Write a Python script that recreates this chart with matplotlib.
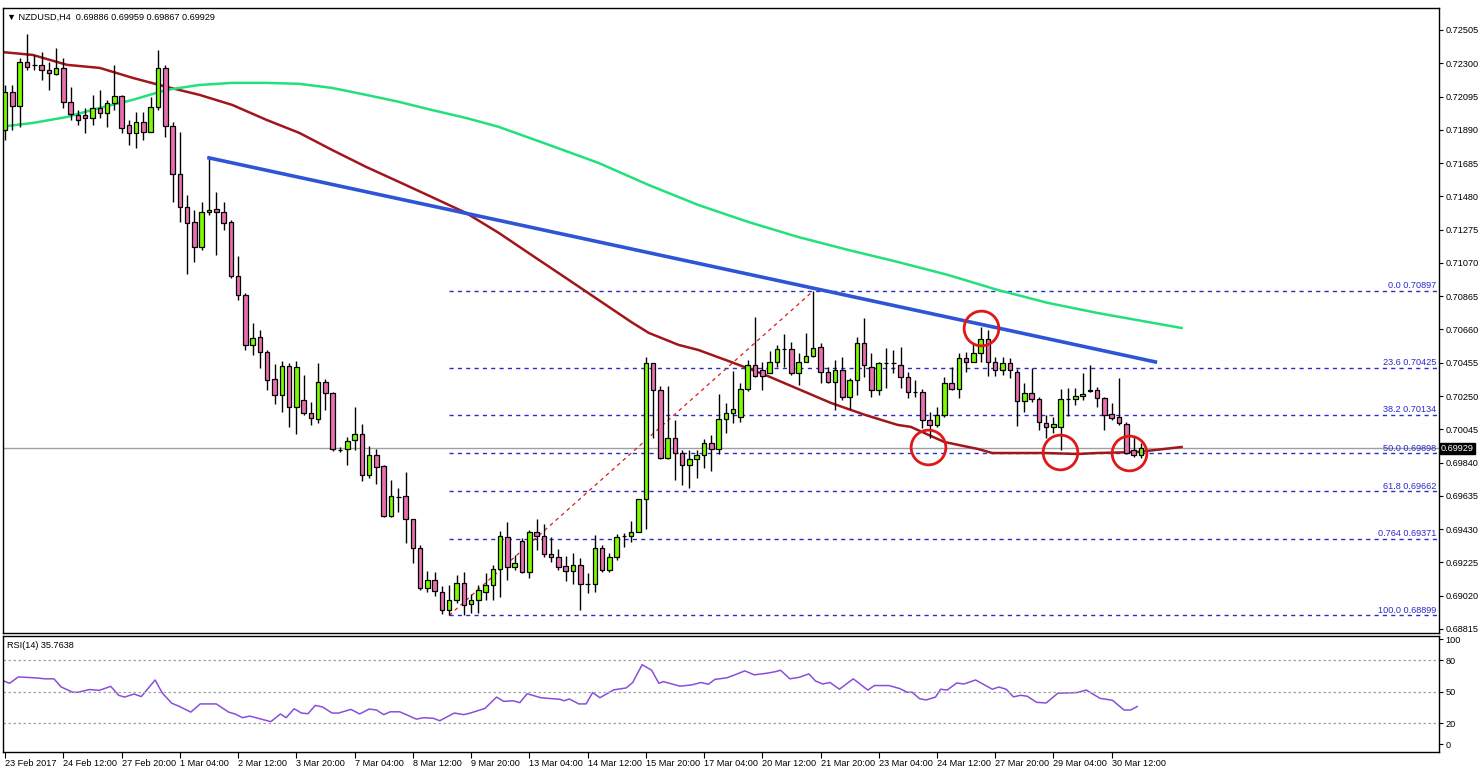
import numpy as np
import matplotlib.pyplot as plt

# NZDUSD H4 candles
opens = [0.71889, 0.72123, 0.72037, 0.72308, 0.72290, 0.72290, 0.72259, 0.72234, 0.72271, 0.72062,
         0.71982, 0.71982, 0.71963, 0.72025, 0.71994, 0.72056, 0.72099, 0.71920, 0.71871, 0.71939,
         0.71877, 0.72031, 0.72271, 0.71914, 0.71618, 0.71415, 0.71322, 0.71168, 0.71384, 0.71403,
         0.71384, 0.71322, 0.70990, 0.70873, 0.70565, 0.70614, 0.70522, 0.70355, 0.70257, 0.70435,
         0.70183, 0.70226, 0.70146, 0.70109, 0.70337, 0.70269, 0.69915, 0.69921, 0.69977, 0.70014,
         0.69764, 0.69885, 0.69817, 0.69511, 0.69628, 0.69635, 0.69493, 0.69314, 0.69068, 0.69117,
         0.69043, 0.68932, 0.68994, 0.69099, 0.68969, 0.68994, 0.69043, 0.69086, 0.69185, 0.69382,
         0.69197, 0.69357, 0.69167, 0.69413, 0.69388, 0.69277, 0.69259, 0.69203, 0.69173, 0.69210,
         0.69093, 0.69093, 0.69314, 0.69179, 0.69259, 0.69388, 0.69388, 0.69413, 0.69616, 0.70454,
         0.70288, 0.69869, 0.69992, 0.69900, 0.69826, 0.69863, 0.69887, 0.69961, 0.69924, 0.70109,
         0.70146, 0.70121, 0.70294, 0.70442, 0.70411, 0.70392, 0.70460, 0.70540, 0.70540, 0.70392,
         0.70460, 0.70497, 0.70552, 0.70399, 0.70337, 0.70411, 0.70245, 0.70349, 0.70577, 0.70429,
         0.70288, 0.70454, 0.70454, 0.70442, 0.70368, 0.70275, 0.70275, 0.70103, 0.70072, 0.70134,
         0.70331, 0.70294, 0.70485, 0.70460, 0.70516, 0.70602, 0.70460, 0.70411, 0.70454, 0.70398,
         0.70220, 0.70269, 0.70232, 0.70084, 0.70060, 0.70060, 0.70232, 0.70232, 0.70251, 0.70282,
         0.70288, 0.70239, 0.70140, 0.70121, 0.70078, 0.69918, 0.69886]
highs = [0.72166, 0.72166, 0.72333, 0.72481, 0.72351, 0.72370, 0.72308, 0.72394, 0.72333, 0.72154,
         0.72012, 0.72025, 0.72105, 0.72136, 0.72074, 0.72290, 0.72105, 0.71951, 0.72000, 0.72000,
         0.72092, 0.72382, 0.72290, 0.71939, 0.71877, 0.71489, 0.71396, 0.71446, 0.71717, 0.71507,
         0.71446, 0.71335, 0.71113, 0.70885, 0.70700, 0.70657, 0.70534, 0.70448, 0.70466, 0.70454,
         0.70466, 0.70380, 0.70214, 0.70454, 0.70355, 0.70275, 0.69934, 0.69995, 0.70183, 0.70075,
         0.69940, 0.69924, 0.69823, 0.69733, 0.69684, 0.69783, 0.69493, 0.69333, 0.69173, 0.69167,
         0.69080, 0.69086, 0.69148, 0.69167, 0.69031, 0.69086, 0.69160, 0.69210, 0.69419, 0.69474,
         0.69271, 0.69376, 0.69425, 0.69493, 0.69462, 0.69382, 0.69308, 0.69265, 0.69284, 0.69253,
         0.69160, 0.69394, 0.69333, 0.69284, 0.69401, 0.69407, 0.69481, 0.69616, 0.70491, 0.70454,
         0.70312, 0.70312, 0.70103, 0.69918, 0.69918, 0.69918, 0.69986, 0.70010, 0.70263, 0.70207,
         0.70405, 0.70331, 0.70472, 0.70737, 0.70460, 0.70528, 0.70565, 0.70633, 0.70583, 0.70516,
         0.70639, 0.70897, 0.70577, 0.70429, 0.70472, 0.70491, 0.70362, 0.70614, 0.70731, 0.70516,
         0.70460, 0.70546, 0.70534, 0.70552, 0.70398, 0.70349, 0.70294, 0.70152, 0.70183, 0.70368,
         0.70429, 0.70516, 0.70522, 0.70577, 0.70676, 0.70657, 0.70491, 0.70491, 0.70485, 0.70417,
         0.70331, 0.70423, 0.70245, 0.70134, 0.70121, 0.70292, 0.70300, 0.70300, 0.70392, 0.70442,
         0.70306, 0.70245, 0.70207, 0.70362, 0.70090, 0.69995, 0.69959]
lows = [0.71828, 0.71889, 0.71908, 0.72259, 0.72259, 0.72197, 0.72136, 0.72228, 0.72025, 0.71951,
        0.71920, 0.71871, 0.71920, 0.71963, 0.71908, 0.72012, 0.71871, 0.71797, 0.71778, 0.71828,
        0.71877, 0.72012, 0.71846, 0.71446, 0.71322, 0.71002, 0.71076, 0.71150, 0.71366, 0.71119,
        0.71273, 0.70978, 0.70842, 0.70534, 0.70503, 0.70423, 0.70288, 0.70201, 0.70152, 0.70060,
        0.70017, 0.70134, 0.70072, 0.70084, 0.70164, 0.69912, 0.69906, 0.69826, 0.69915, 0.69727,
        0.69746, 0.69709, 0.69505, 0.69505, 0.69536, 0.69345, 0.69222, 0.69056, 0.69043, 0.69019,
        0.68908, 0.68899, 0.68976, 0.68902, 0.68914, 0.68914, 0.68994, 0.68994, 0.69012, 0.69117,
        0.69179, 0.69160, 0.69130, 0.69302, 0.69259, 0.69228, 0.69179, 0.69111, 0.69093, 0.68932,
        0.69037, 0.69043, 0.69167, 0.69167, 0.69240, 0.69320, 0.69351, 0.69413, 0.69431, 0.69992,
        0.69863, 0.69863, 0.69733, 0.69702, 0.69684, 0.69746, 0.69807, 0.69789, 0.69893, 0.70023,
        0.70084, 0.70090, 0.70282, 0.70368, 0.70288, 0.70392, 0.70429, 0.70429, 0.70380, 0.70318,
        0.70460, 0.70491, 0.70331, 0.70331, 0.70164, 0.70226, 0.70168, 0.70257, 0.70368, 0.70245,
        0.70257, 0.70300, 0.70392, 0.70300, 0.70238, 0.70245, 0.70054, 0.69994, 0.70060, 0.70121,
        0.70288, 0.70238, 0.70399, 0.70460, 0.70460, 0.70374, 0.70374, 0.70380, 0.70362, 0.70066,
        0.70152, 0.70214, 0.70041, 0.69992, 0.70023, 0.69918, 0.70127, 0.70195, 0.70226, 0.70275,
        0.70183, 0.70041, 0.70103, 0.70072, 0.69893, 0.69875, 0.69867]
closes = [0.72123, 0.72037, 0.72308, 0.72277, 0.72290, 0.72259, 0.72240, 0.72271, 0.72062, 0.71988,
          0.71951, 0.71963, 0.72025, 0.71994, 0.72056, 0.72099, 0.71902, 0.71871, 0.71939, 0.71877,
          0.72031, 0.72271, 0.71914, 0.71618, 0.71415, 0.71316, 0.71168, 0.71384, 0.71396, 0.71384,
          0.71316, 0.70990, 0.70873, 0.70565, 0.70608, 0.70522, 0.70349, 0.70257, 0.70435, 0.70183,
          0.70429, 0.70146, 0.70115, 0.70337, 0.70269, 0.69924, 0.69915, 0.69971, 0.70014, 0.69764,
          0.69885, 0.69810, 0.69511, 0.69635, 0.69628, 0.69493, 0.69314, 0.69068, 0.69117, 0.69050,
          0.68932, 0.68994, 0.69099, 0.68963, 0.68994, 0.69056, 0.69086, 0.69185, 0.69388, 0.69197,
          0.69222, 0.69167, 0.69413, 0.69388, 0.69277, 0.69259, 0.69197, 0.69173, 0.69210, 0.69093,
          0.69093, 0.69314, 0.69179, 0.69259, 0.69382, 0.69388, 0.69413, 0.69616, 0.70454, 0.70288,
          0.69869, 0.69992, 0.69900, 0.69826, 0.69863, 0.69887, 0.69961, 0.69924, 0.70109, 0.70146,
          0.70171, 0.70294, 0.70442, 0.70374, 0.70374, 0.70460, 0.70540, 0.70540, 0.70392, 0.70460,
          0.70497, 0.70546, 0.70399, 0.70337, 0.70411, 0.70245, 0.70349, 0.70577, 0.70442, 0.70288,
          0.70454, 0.70454, 0.70454, 0.70368, 0.70275, 0.70275, 0.70103, 0.70072, 0.70134, 0.70331,
          0.70294, 0.70485, 0.70460, 0.70516, 0.70602, 0.70460, 0.70411, 0.70454, 0.70411, 0.70220,
          0.70269, 0.70232, 0.70091, 0.70060, 0.70078, 0.70232, 0.70232, 0.70251, 0.70263, 0.70288,
          0.70239, 0.70134, 0.70115, 0.70084, 0.69900, 0.69887, 0.69929]

date_labels = ["23 Feb 2017", "24 Feb 12:00", "27 Feb 20:00", "1 Mar 04:00", "2 Mar 12:00",
               "3 Mar 20:00", "7 Mar 04:00", "8 Mar 12:00", "9 Mar 20:00", "13 Mar 04:00",
               "14 Mar 12:00", "15 Mar 20:00", "17 Mar 04:00", "20 Mar 12:00", "21 Mar 20:00",
               "23 Mar 04:00", "24 Mar 12:00", "27 Mar 20:00", "29 Mar 04:00", "30 Mar 12:00"]

# moving averages (sampled along the lines)
ma_red_x = [-0.7, 3.8, 8.5, 13.0, 17.5, 22.2, 26.7, 31.2, 35.9, 40.4, 44.9, 49.6, 54.1, 58.6, 63.3,
            67.8, 72.3, 77.0, 81.5, 86.0, 88.4, 92.5, 95.2, 99.7, 104.4, 108.9, 113.4, 118.1, 122.6,
            124.4, 129.0, 133.6, 135.6, 142.8, 147.3, 150.0, 155.5, 161.6]
ma_red = [0.72370, 0.72351, 0.72290, 0.72271, 0.72210, 0.72154, 0.72105, 0.72043, 0.71951, 0.71871,
          0.71766, 0.71661, 0.71569, 0.71476, 0.71378, 0.71255, 0.71119, 0.70978, 0.70842, 0.70706,
          0.70639, 0.70565, 0.70534, 0.70460, 0.70380, 0.70294, 0.70208, 0.70134, 0.70072, 0.70060,
          0.69967, 0.69924, 0.69899, 0.69899, 0.69893, 0.69899, 0.69905, 0.69936]
ma_green_x = [-0.7, 3.8, 8.5, 13.0, 17.5, 22.2, 26.7, 31.2, 35.9, 40.4, 44.9, 49.6, 54.1, 58.6, 63.3,
              67.8, 74.7, 81.5, 88.4, 95.2, 102.1, 108.9, 115.8, 122.6, 129.5, 136.3, 143.2, 150.0, 161.6]
ma_green = [0.71908, 0.71932, 0.71969, 0.72025, 0.72074, 0.72136, 0.72166, 0.72179, 0.72179, 0.72173,
            0.72148, 0.72105, 0.72062, 0.72012, 0.71963, 0.71908, 0.71797, 0.71686, 0.71550, 0.71427,
            0.71322, 0.71230, 0.71150, 0.71076, 0.70996, 0.70904, 0.70824, 0.70762, 0.70669]

rsi_x = [-0.4, 0.6, 1.8, 4.2, 5.5, 6.7, 7.7, 9.3, 10.0, 11.6, 12.9, 14.5, 15.6, 16.4, 17.7, 18.7, 20.6,
         21.6, 22.9, 23.9, 25.5, 26.8, 29.0, 30.7, 31.6, 32.6, 33.6, 36.5, 37.8, 38.6, 39.7, 40.7, 41.6,
         42.6, 43.6, 44.9, 45.8, 47.5, 48.7, 50.0, 51.0, 52.0, 52.9, 54.2, 56.5, 57.5, 58.8, 59.7, 61.7,
         63.0, 63.9, 65.9, 67.5, 68.5, 69.8, 70.7, 71.7, 73.6, 74.6, 76.2, 76.8, 77.5, 78.8, 79.8, 80.7,
         81.7, 83.6, 85.3, 86.2, 87.5, 88.8, 89.8, 90.4, 92.7, 94.3, 95.6, 96.6, 97.5, 99.1, 100.6,
         101.6, 102.9, 104.6, 105.8, 106.5, 107.8, 109.1, 110.4, 111.3, 112.3, 113.3, 114.6, 116.5,
         118.5, 119.4, 121.4, 122.9, 123.9, 124.6, 125.6, 126.5, 127.8, 128.5, 129.4, 130.7, 131.7,
         133.3, 135.6, 136.5, 137.5, 138.5, 139.5, 140.4, 141.7, 143.0, 144.6, 147.2, 148.5, 150.4,
         152.1, 153.7, 154.6, 155.5]
rsi_vals = [60.8, 57.9, 64.0, 63.1, 62.2, 62.2, 54.4, 49.4, 49.4, 52.0, 51.2, 55.0, 46.5, 44.8, 47.7,
            45.3, 61.1, 48.5, 38.9, 36.0, 30.5, 38.3, 38.3, 30.5, 28.7, 25.2, 26.7, 21.4, 28.7, 25.2,
            33.7, 29.6, 29.0, 36.9, 35.4, 29.6, 29.6, 33.1, 28.7, 33.4, 32.5, 28.1, 30.8, 30.8, 23.8,
            25.2, 24.6, 22.3, 29.6, 28.1, 29.6, 34.0, 44.8, 40.7, 41.3, 39.5, 48.0, 44.2, 43.6, 42.7,
            41.3, 43.0, 38.3, 38.3, 49.1, 44.2, 51.7, 53.5, 58.7, 75.7, 70.4, 57.9, 59.6, 55.2, 56.4,
            58.7, 57.0, 61.7, 63.1, 67.0, 69.8, 66.0, 67.5, 69.0, 70.4, 62.2, 63.7, 66.9, 60.2, 57.3,
            58.7, 52.3, 62.2, 51.5, 55.8, 55.8, 52.9, 49.4, 49.4, 43.3, 42.1, 44.8, 52.3, 51.5, 58.2,
            57.3, 61.1, 52.3, 54.4, 52.3, 45.0, 46.5, 45.6, 39.8, 39.2, 48.5, 49.1, 51.5, 43.6, 41.8,
            32.5, 32.5, 35.8]

fib_pct = ["0.0", "23.6", "38.2", "50.0", "61.8", "0.764", "100.0"]
fib_levels = [0.70897, 0.70425, 0.70134, 0.69898, 0.69662, 0.69371, 0.68899]
price_ticks = [0.72505, 0.72300, 0.72095, 0.71890, 0.71685, 0.71480, 0.71275, 0.71070, 0.70865,
               0.70660, 0.70455, 0.70250, 0.70045, 0.69840, 0.69635, 0.69430, 0.69225, 0.69020, 0.68815]
last_price = 0.69929

UP = '#7CFC00'
DOWN = '#EA6FB1'
FIB = '#2B2BC8'
FS = 6.6

plt.rcParams['font.family'] = ['Liberation Sans', 'DejaVu Sans']
fig = plt.figure(figsize=(14.8, 7.72), dpi=100)
ax = fig.add_axes([0.002, 0.180, 0.9705, 0.8096])
axr = fig.add_axes([0.002, 0.0259, 0.9705, 0.1500])

n = len(closes)
idx = np.arange(n)
o = np.array(opens); c = np.array(closes); h = np.array(highs); l = np.array(lows)

ax.vlines(idx, l, h, color='black', lw=1.0, zorder=3)
up = c >= o
body_lo = np.minimum(o, c)
body_h = np.maximum(np.abs(c - o), 0.000015)
ax.bar(idx[up], body_h[up], bottom=body_lo[up], width=0.62, color=UP, edgecolor='black', lw=0.9, zorder=4)
ax.bar(idx[~up], body_h[~up], bottom=body_lo[~up], width=0.62, color=DOWN, edgecolor='black', lw=0.9, zorder=4)

ax.plot(ma_red_x, ma_red, color='#A0161B', lw=1.8, zorder=2)
ax.plot(ma_green_x, ma_green, color='#22E07A', lw=1.8, zorder=2)

# trend line from the 1 Mar high, and the fib swing
ax.plot([28, 158], [highs[28], 0.70460], color='#2E55D6', lw=2.6, zorder=5)
ax.plot([61, 111], [lows[61], highs[111]], color='#D81E1E', lw=0.9, ls=(0, (3, 3)), zorder=2)

for pct, lev in zip(fib_pct, fib_levels):
    ax.plot([61, 197], [lev, lev], color=FIB, lw=1.0, ls=(0, (3, 3)), zorder=1)
    ax.text(196.6, lev + 0.00004, f"{pct} {lev:.5f}", color=FIB, fontsize=FS, ha='right', va='bottom')

ax.axhline(last_price, color='#A0A0A0', lw=1.0, zorder=1)

# highlight circles
circ_x = [126.7, 134.0, 144.9, 154.4]
circ_y = [0.69936, 0.70670, 0.69905, 0.69899]
ax.plot(circ_x, circ_y, 'o', ms=25, mfc='none', mec='#E01818', mew=2.0, zorder=6)

ax.set_xlim(-0.3, 197)
ax.set_ylim(0.68790, 0.72640)
ax.yaxis.tick_right()
ax.set_yticks(price_ticks)
ax.set_yticklabels([f"{t:.5f}" for t in price_ticks], fontsize=FS)
ax.tick_params(axis='y', length=3, pad=1.5)
ax.set_xticks([])
ax.text(0.003, 0.992, "\u25bc NZDUSD,H4  0.69886 0.69959 0.69867 0.69929", transform=ax.transAxes,
        fontsize=FS, va='top', ha='left')
ax.text(197.2, last_price, f"{last_price:.5f}", color='white', fontsize=FS, va='center', ha='left',
        bbox=dict(boxstyle='square,pad=0.12', fc='black', ec='black'), clip_on=False)

# RSI panel
axr.plot(rsi_x, rsi_vals, color='#8A4FD8', lw=1.1)
for lv in (80, 50, 20):
    axr.axhline(lv, color='#A0A0A0', lw=0.9, ls=(0, (2, 2)))
axr.set_xlim(-0.3, 197)
axr.set_ylim(-7.5, 102.8)
axr.yaxis.tick_right()
axr.set_yticks([0, 20, 50, 80, 100])
axr.set_yticklabels(["0", "20", "50", "80", "100"], fontsize=FS)
axr.tick_params(axis='y', length=3, pad=1.5)
axr.set_xticks(np.arange(0, 8 * len(date_labels), 8))
axr.set_xticklabels(date_labels, fontsize=FS, ha='left')
axr.tick_params(axis='x', length=4, pad=1)
axr.text(0.003, 0.96, "RSI(14) 35.7638", transform=axr.transAxes, fontsize=FS, va='top', ha='left')

for a in (ax, axr):
    for s in a.spines.values():
        s.set_linewidth(1.0)

fig.savefig('out.png', dpi=100)
